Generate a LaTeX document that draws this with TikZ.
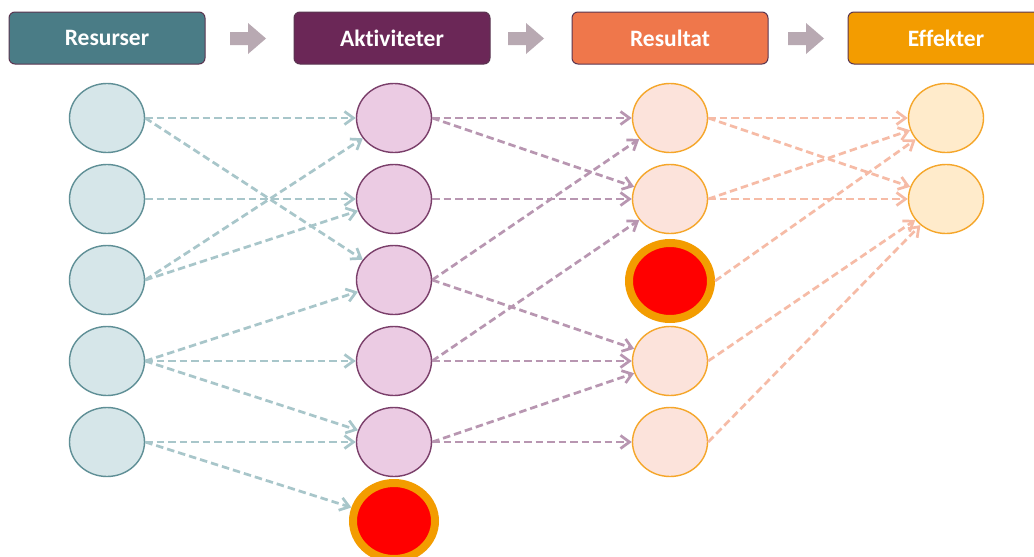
\documentclass[tikz,border=0pt]{standalone}
\usepackage{fontspec}
\setmainfont{Carlito}[Ligatures={NoCommon}]
\usetikzlibrary{arrows.meta,shapes.geometric}
\definecolor{cRes}{HTML}{4A7C86}
\definecolor{cAkt}{HTML}{6B2757}
\definecolor{cRsl}{HTML}{EF774B}
\definecolor{cEff}{HTML}{F39C00}
\definecolor{cHdrB}{HTML}{5A3550}
\definecolor{cGray}{HTML}{B8A9B2}
\definecolor{f1}{HTML}{D6E6E9}
\definecolor{b1}{HTML}{5F8F96}
\definecolor{f2}{HTML}{EBCBE3}
\definecolor{b2}{HTML}{7A3F6A}
\definecolor{f3}{HTML}{FCE3DB}
\definecolor{b3}{HTML}{F5A62A}
\definecolor{f4}{HTML}{FFEBCB}
\definecolor{l1}{HTML}{A8C6CA}
\definecolor{l2}{HTML}{B896B1}
\definecolor{l3}{HTML}{F6BBA6}
\definecolor{cRing}{HTML}{F39C00}
\begin{document}
\begin{tikzpicture}[x=1pt,y=-1pt,
  hdr/.style={draw=cHdrB, line width=1pt, rounded corners=6pt, minimum width=196pt, minimum height=52pt, inner sep=0pt, text=white, font=\fontsize{23.5}{27}\selectfont\bfseries},
  circ/.style={ellipse, minimum width=75pt, minimum height=69pt, inner sep=0pt, line width=1.4pt},
  c1/.style={circ, fill=f1, draw=b1},
  c2/.style={circ, fill=f2, draw=b2},
  c3/.style={circ, fill=f3, draw=b3},
  c4/.style={circ, fill=f4, draw=b3},
  redn/.style={ellipse, minimum width=82pt, minimum height=76pt, inner sep=0pt, fill=red, draw=cRing, line width=8pt},
  conn/.style={line width=2.7pt, dash pattern=on 7.5pt off 4pt, -{Straight Barb[length=9pt,width=13pt,line width=2.7pt]}},
  k1/.style={conn, draw=l1},
  k2/.style={conn, draw=l2},
  k3/.style={conn, draw=l3},
  harr/.style={fill=cGray}
]
\clip (0,0) rectangle (1034,557);
\fill[white] (0,0) rectangle (1034,557);
% headers
\node[hdr, fill=cRes] (h1) at (107,38) {Resurser};
\node[hdr, fill=cAkt] (h2) at (392,38) {Aktiviteter};
\node[hdr, fill=cRsl] (h3) at (670,38) {Resultat};
\node[hdr, fill=cEff] (h4) at (946,38) {Effekter};
% header arrows
\foreach \x in {230,508,788}{
  \fill[harr] (\x,32) -- (\x+18,32) -- (\x+18,23) -- (\x+36,38.5) -- (\x+18,54) -- (\x+18,45) -- (\x,45) -- cycle;
}
% column 1
\node[c1] (r1) at (107,118) {};
\node[c1] (r2) at (107,199) {};
\node[c1] (r3) at (107,280) {};
\node[c1] (r4) at (107,361) {};
\node[c1] (r5) at (107,442) {};
% column 2
\node[c2] (a1) at (394,118) {};
\node[c2] (a2) at (394,199) {};
\node[c2] (a3) at (394,280) {};
\node[c2] (a4) at (394,361) {};
\node[c2] (a5) at (394,442) {};
\node[redn] (a6) at (394,521) {};
% column 3
\node[c3] (s1) at (670,118) {};
\node[c3] (s2) at (670,199) {};
\node[redn] (s3) at (670,281) {};
\node[c3] (s4) at (670,361) {};
\node[c3] (s5) at (670,442) {};
% column 4
\node[c4] (e1) at (946,118) {};
\node[c4] (e2) at (946,199) {};
% connectors col1 -> col2
\draw[k1] (r1.east) -- (a1.west);
\draw[k1] (r1.east) -- (a3);
\draw[k1] (r2.east) -- (a2.west);
\draw[k1] (r3.east) -- (a1);
\draw[k1] (r3.east) -- (a2);
\draw[k1] (r4.east) -- (a3);
\draw[k1] (r4.east) -- (a4.west);
\draw[k1] (r4.east) -- (a5);
\draw[k1] (r5.east) -- (a5.west);
\draw[k1] (r5.east) -- (a6);
% connectors col2 -> col3
\draw[k2] (a1.east) -- (s1.west);
\draw[k2] (a1.east) -- (s2);
\draw[k2] (a2.east) -- (s2.west);
\draw[k2] (a3.east) -- (s1);
\draw[k2] (a3.east) -- (s4);
\draw[k2] (a4.east) -- (s2);
\draw[k2] (a4.east) -- (s4.west);
\draw[k2] (a5.east) -- (s4);
\draw[k2] (a5.east) -- (s5.west);
% connectors col3 -> col4
\draw[k3] (s1.east) -- (e1.west);
\draw[k3] (s1.east) -- (e2);
\draw[k3] (s2.east) -- (e1);
\draw[k3] (s2.east) -- (e2.west);
\draw[k3] (s3.east) -- (e1);
\draw[k3] (s4.east) -- (e2);
\draw[k3] (s5.east) -- (e2);
\end{tikzpicture}
\end{document}
